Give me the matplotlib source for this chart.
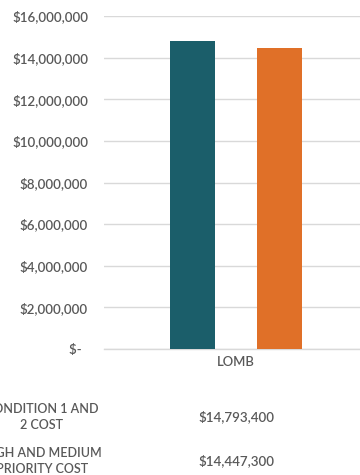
import matplotlib.pyplot as plt
from matplotlib.ticker import FuncFormatter

categories = ["LOMB"]
series_names = ["CONDITION 1 AND\n2 COST", "HIGH AND MEDIUM\nPRIORITY COST"]
condition_cost = [14793400]
priority_cost = [14447300]
value_labels = ["$14,793,400", "$14,447,300"]

teal = "#1b5e6a"
orange = "#e07028"
grey_text = "#595959"
grid_grey = "#d9d9d9"

plt.rcParams["font.family"] = ["Lato", "DejaVu Sans"]
plt.rcParams["font.weight"] = "semibold"

W, H = 360, 475
fig = plt.figure(figsize=(W / 100, H / 100), dpi=100)

# plot area: x 104..360 px, y 16..349 px (category area runs past the right edge)
ax = fig.add_axes([104 / W, 1 - 349 / H, (360 - 104) / W, (349 - 16) / H])

x = [0]
bar_w = 0.17
ax.bar([v - 0.165 for v in x], condition_cost, width=bar_w, color=teal, zorder=3)
ax.bar([v + 0.165 for v in x], priority_cost, width=bar_w, color=orange, zorder=3)

ax.set_xlim(-0.5, 0.47)
ax.set_ylim(0, 16000000)
ax.set_yticks(range(0, 16000001, 2000000))


def money(v, pos):
    if v == 0:
        return "$-  "
    return "${:,.0f}".format(v)


ax.yaxis.set_major_formatter(FuncFormatter(money))
ax.tick_params(axis="y", length=0, pad=11.5, labelsize=9.6, labelcolor=grey_text)
ax.set_xticks(x)
ax.set_xticklabels(categories)
ax.tick_params(axis="x", length=0, pad=5, labelsize=9.4, labelcolor=grey_text)

ax.grid(axis="y", color=grid_grey, linewidth=1, zorder=0)
for side in ["top", "right", "left"]:
    ax.spines[side].set_visible(False)
ax.spines["bottom"].set_color(grid_grey)
ax.spines["bottom"].set_linewidth(1)

# data table under the chart (left column is cut by the image edge)
row_y = [417, 461]
for name, val, y in zip(series_names, value_labels, row_y):
    fig.text(42 / W, 1 - y / H, name, ha="center", va="center",
             fontsize=9, color=grey_text, linespacing=1.45)
    fig.text(236 / W, 1 - y / H, val, ha="center", va="center",
             fontsize=9.6, color=grey_text)

fig.savefig("out.png", dpi=100, facecolor="white")
